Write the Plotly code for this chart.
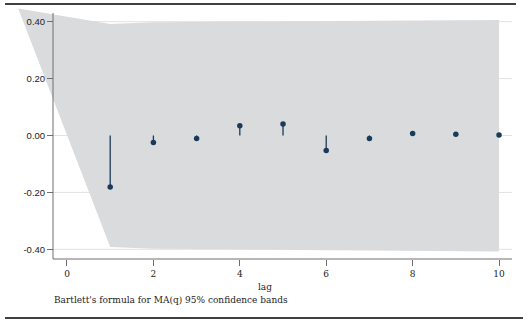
import plotly.graph_objects as go

# Data
lags = [1, 2, 3, 4, 5, 6, 7, 8, 9, 10]
acf = [-0.181, -0.025, -0.011, 0.034, 0.040, -0.053, -0.011, 0.007, 0.004, 0.002]
band_lag = [-1.13, 1, 2, 3, 4, 5, 6, 7, 8, 9, 10]
band_upper = [0.446, 0.392, 0.398, 0.399, 0.400, 0.401, 0.403, 0.404, 0.405, 0.405, 0.406]
band_lower = [0.446, -0.392, -0.398, -0.399, -0.400, -0.401, -0.403, -0.404, -0.405, -0.406, -0.408]
y_ticks = [-0.4, -0.2, 0.0, 0.2, 0.4]
y_tick_text = ["-0.40", "-0.20", "0.00", "0.20", "0.40"]
x_ticks = [0, 2, 4, 6, 8, 10]

W, H = 529, 325
ml, mr, mt, mb = 18, 17, 8, 66
pw = W - ml - mr
ph = H - mt - mb
xr = [-1.134, 10.30]
yr = [-0.434, 0.448]
axis_x_paper = (53 - ml) / pw  # y-axis position
axis_top_paper = (H - mb - 13) / ph  # y-axis line top (pixel 13)

navy = "#1b3a5a"
band_col = "#dadbdd"
axis_col = "#6e6e6e"

fig = go.Figure()

# confidence band
fig.add_trace(go.Scatter(
    x=band_lag + band_lag[::-1],
    y=band_upper + band_lower[::-1],
    fill="toself", fillcolor=band_col, mode="lines",
    line=dict(width=0, color=band_col), hoverinfo="skip", showlegend=False))

# stems
sx, sy = [], []
for l, v in zip(lags, acf):
    sx += [l, l, None]
    sy += [0, v, None]
fig.add_trace(go.Scatter(x=sx, y=sy, mode="lines",
                         line=dict(color=navy, width=1.3), showlegend=False))
fig.add_trace(go.Scatter(x=lags, y=acf, mode="markers",
                         marker=dict(color=navy, size=5.5), showlegend=False))

shapes = []
# gridlines
for t in y_ticks:
    shapes.append(dict(type="line", xref="paper", yref="y", x0=axis_x_paper, x1=1,
                       y0=t, y1=t, line=dict(color="#e2e2e2", width=1), layer="below"))
# axis lines
shapes.append(dict(type="line", xref="paper", yref="paper", x0=axis_x_paper, x1=axis_x_paper,
                   y0=0, y1=axis_top_paper, line=dict(color=axis_col, width=1)))
shapes.append(dict(type="line", xref="paper", yref="paper", x0=axis_x_paper, x1=1,
                   y0=0, y1=0, line=dict(color=axis_col, width=1)))
# top and bottom black rules
shapes.append(dict(type="line", xref="paper", yref="paper",
                   x0=(5 - ml) / pw, x1=(516 - ml) / pw,
                   y0=(H - mb - 4) / ph, y1=(H - mb - 4) / ph,
                   line=dict(color="black", width=1.3)))
shapes.append(dict(type="line", xref="paper", yref="paper",
                   x0=(5 - ml) / pw, x1=(523 - ml) / pw,
                   y0=(H - mb - 318) / ph, y1=(H - mb - 318) / ph,
                   line=dict(color="black", width=1.3)))

fig.update_layout(
    width=W, height=H,
    margin=dict(l=ml, r=mr, t=mt, b=mb, pad=0),
    paper_bgcolor="white", plot_bgcolor="rgba(0,0,0,0)",
    shapes=shapes,
    xaxis=dict(range=xr, tickvals=x_ticks, showgrid=False, zeroline=False,
               showline=False, ticks="outside", ticklen=6, tickcolor=axis_col,
               tickfont=dict(family="DejaVu Serif", size=9, color="#222"),
               title=dict(text="lag", font=dict(family="DejaVu Serif", size=9, color="#222"),
                          standoff=5)),
    yaxis=dict(range=yr, tickvals=y_ticks, ticktext=y_tick_text, showgrid=False,
               zeroline=False, showline=False, anchor="free", position=axis_x_paper,
               ticks="outside", ticklen=6, tickcolor=axis_col,
               tickfont=dict(family="Liberation Sans", size=9.5, color="#222")),
    annotations=[dict(text="Bartlett's formula for MA(q) 95% confidence bands",
                      xref="paper", yref="paper",
                      x=(52 - ml) / pw, y=(H - mb - 300) / ph,
                      xanchor="left", yanchor="middle", showarrow=False,
                      font=dict(family="DejaVu Serif", size=9, color="#222"))],
)

fig.write_html("out.html", config={"displayModeBar": False},
               post_script="document.body.style.margin='0px';")
